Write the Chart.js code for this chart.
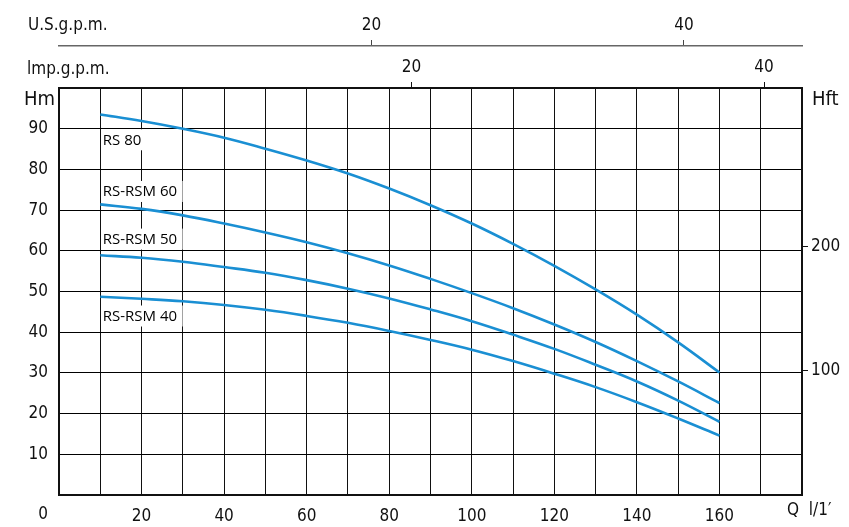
<!DOCTYPE html>
<html>
<head>
<meta charset="utf-8">
<script src="https://cdn.jsdelivr.net/npm/chart.js@4.4.1/dist/chart.umd.min.js"></script>
<style>
  html, body { margin: 0; padding: 0; background: #fff; }
  #curves { display: block; }
</style>
</head>
<body>
<canvas id="curves" width="849" height="527"></canvas>
<script>
// Flow rate Q (l/min) and head H (m)
const flow = [10, 20, 30, 40, 50, 60, 70, 80, 90, 100, 110, 120, 130, 140, 150, 160];
const rs80 = [93.5, 91.9, 90.0, 87.8, 85.1, 82.2, 79.0, 75.3, 71.2, 66.7, 61.7, 56.3, 50.5, 44.3, 37.5, 30.1];
const rsm60 = [71.4, 70.3, 68.7, 66.7, 64.5, 62.1, 59.4, 56.4, 53.1, 49.6, 45.9, 41.9, 37.6, 32.9, 27.9, 22.6];
const rsm50 = [58.9, 58.3, 57.3, 56.0, 54.6, 52.8, 50.7, 48.3, 45.6, 42.7, 39.4, 35.9, 32.0, 27.9, 23.2, 18.0];
const rsm40 = [48.7, 48.2, 47.6, 46.7, 45.5, 44.0, 42.3, 40.3, 38.1, 35.7, 32.9, 29.8, 26.5, 22.8, 18.8, 14.6];
const seriesNames = ['RS 80', 'RS-RSM 60', 'RS-RSM 50', 'RS-RSM 40'];

// Tick labels
const qTicks = [20, 40, 60, 80, 100, 120, 140, 160];
const hmTicks = [10, 20, 30, 40, 50, 60, 70, 80, 90];
const hftTicks = [100, 200];
const usTicks = [20, 40];
const impTicks = [20, 40];

const Q_MAX = 180;
const H_MAX = 100;
const FT_PER_M = 3.281;
const L_PER_USGAL = 3.785;
const L_PER_IMPGAL = 4.27; // as drawn on the original sheet

const blue = '#1a8fd3';
const ink = '#111';
const narrow = "'DejaVu Sans Condensed', 'Liberation Sans Narrow', sans-serif";
const tickFont = { family: narrow, size: 17 };

function steps(max, step) {
    const out = [];
    for (let v = 0; v <= max + 1e-9; v += step) out.push({ value: v });
    return out;
}

function toPoints(ys) {
    return flow.map((q, i) => ({ x: q, y: ys[i] }));
}

function curve(label, ys) {
    return {
        label: label,
        data: toPoints(ys),
        borderColor: blue,
        borderWidth: 2.6,
        pointRadius: 0,
        fill: false,
        tension: 0.4
    };
}

// Series labels sit on white boxes left-aligned at Q = 10
const seriesLabels = [
    { text: seriesNames[0], h: 87.4 },
    { text: seriesNames[1], h: 74.7 },
    { text: seriesNames[2], h: 63.0 },
    { text: seriesNames[3], h: 44.1 }
];

const decorations = {
    id: 'decorations',
    beforeDatasetsDraw(chart) {
        const ctx = chart.ctx;
        const x = chart.scales.x;
        const y = chart.scales.y;
        ctx.save();
        ctx.font = "15px 'Open Sans', 'Noto Sans', sans-serif";
        ctx.textBaseline = 'middle';
        seriesLabels.forEach(l => {
            const px = x.getPixelForValue(10) + 1;
            const py = y.getPixelForValue(l.h);
            const w = ctx.measureText(l.text).width;
            ctx.fillStyle = '#fff';
            ctx.fillRect(px, py - 10, w + 7, 21);
            ctx.fillStyle = '#000';
            ctx.fillText(l.text, px + 1.5, py + 1);
        });
        ctx.restore();
    },
    afterDraw(chart) {
        const ctx = chart.ctx;
        ctx.save();
        ctx.fillStyle = ink;
        ctx.textBaseline = 'middle';
        ctx.font = '17px ' + narrow;
        ctx.textAlign = 'left';
        ctx.fillText('U.S.g.p.m.', 28, 26);
        ctx.fillText('lmp.g.p.m.', 27, 70);
        ctx.textAlign = 'center';
        ctx.fillText('0', 43, 515);
        ctx.textAlign = 'left';
        ctx.fillText('Q  l/1\u2032', 787, 511);
        ctx.font = '20px ' + narrow;
        ctx.fillText('Hm', 24, 100);
        ctx.fillText('Hft', 812, 100);
        ctx.restore();
    }
};

new Chart(document.getElementById('curves'), {
    type: 'line',
    data: {
        datasets: [
            curve(seriesNames[0], rs80),
            curve(seriesNames[1], rsm60),
            curve(seriesNames[2], rsm50),
            curve(seriesNames[3], rsm40)
        ]
    },
    options: {
        responsive: false,
        animation: false,
        layout: { padding: 0 },
        plugins: { legend: { display: false }, tooltip: { enabled: false } },
        scales: {
            x: {
                type: 'linear',
                position: 'bottom',
                min: 0,
                max: Q_MAX,
                afterBuildTicks: s => { s.ticks = steps(Q_MAX, 10); },
                afterFit: s => { s.height = 32; },
                ticks: {
                    callback: v => qTicks.includes(v) ? String(v) : '',
                    autoSkip: false,
                    maxRotation: 0,
                    padding: 11,
                    color: ink,
                    font: tickFont
                },
                grid: { color: '#111', lineWidth: 1, drawTicks: false },
                border: { color: ink, width: 2 }
            },
            y: {
                type: 'linear',
                position: 'left',
                min: 0,
                max: H_MAX,
                afterBuildTicks: s => { s.ticks = steps(H_MAX, 10); },
                afterFit: s => { s.width = 59; },
                ticks: {
                    callback: v => hmTicks.includes(v) ? String(v) : '',
                    autoSkip: false,
                    padding: 11,
                    color: ink,
                    font: tickFont
                },
                grid: { color: '#000', lineWidth: 1, drawTicks: false },
                border: { color: ink, width: 2 }
            },
            hft: {
                type: 'linear',
                position: 'right',
                min: 0,
                max: H_MAX * FT_PER_M,
                afterBuildTicks: s => { s.ticks = hftTicks.map(v => ({ value: v })); },
                afterFit: s => { s.width = 47; },
                ticks: { padding: 3, color: ink, font: tickFont },
                grid: { drawOnChartArea: false, tickLength: 6, color: ink, lineWidth: 1 },
                border: { color: ink, width: 2 }
            },
            imp: {
                type: 'linear',
                position: 'top',
                weight: 1,
                min: 0,
                max: Q_MAX / L_PER_IMPGAL,
                afterBuildTicks: s => { s.ticks = impTicks.map(v => ({ value: v })); },
                afterFit: s => { s.height = 42; },
                ticks: { padding: 4, maxRotation: 0, color: ink, font: tickFont },
                grid: { drawOnChartArea: false, tickLength: 6, color: ink, lineWidth: 1 },
                border: { color: ink, width: 2 }
            },
            us: {
                type: 'linear',
                position: 'top',
                weight: 2,
                min: 0,
                max: Q_MAX / L_PER_USGAL,
                afterBuildTicks: s => { s.ticks = usTicks.map(v => ({ value: v })); },
                afterFit: s => { s.height = 46; },
                ticks: { padding: 4, maxRotation: 0, color: ink, font: tickFont },
                grid: { drawOnChartArea: false, tickLength: 6, color: '#444', lineWidth: 1 },
                border: { color: '#666', width: 1.5 }
            }
        }
    },
    plugins: [decorations]
});
</script>
</body>
</html>
